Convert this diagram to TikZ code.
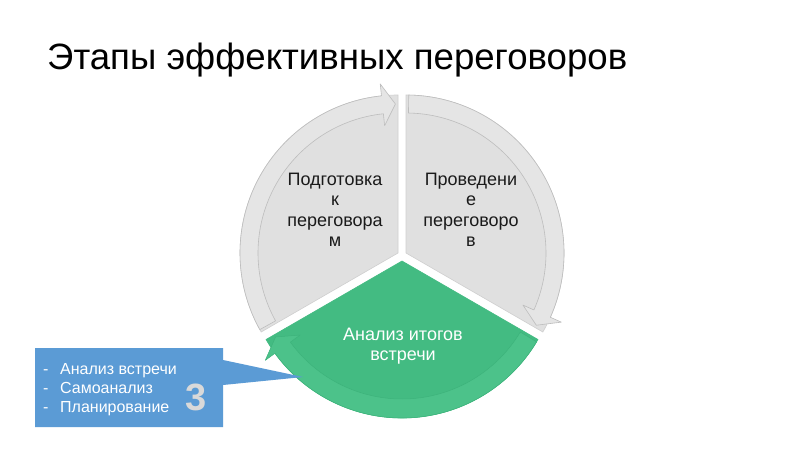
\documentclass[tikz,border=0pt]{standalone}
\usepackage{fontspec}
\setmainfont{Liberation Sans}
\definecolor{segGray}{HTML}{E0E0E0}
\definecolor{bandGray}{HTML}{E5E5E5}
\definecolor{lineGray}{HTML}{BDBDBD}
\definecolor{edgeGray}{HTML}{CFCFCF}
\definecolor{segGreen}{HTML}{43BB82}
\definecolor{bandGreen}{HTML}{4CC28A}
\definecolor{lineGreen}{HTML}{3DB37B}
\definecolor{calloutBlue}{HTML}{5B9BD5}
\definecolor{digitGray}{HTML}{D9D9D9}
\definecolor{textDark}{HTML}{1A1A1A}
% #1 tail angle, #2 end angle, #3 inner r, #4 outer r, #5 style
\newcommand{\arrowband}[5]{%
  \filldraw[#5] (#1:#4) arc[start angle=#1, end angle={#2+6}, radius=#4]
    -- ({#2+6}:{#4+12}) -- ({#2+1}:{(#3+#4)/2}) -- ({#2+6}:{#3-12})
    -- ({#2+6}:#3) arc[start angle={#2+6}, end angle=#1, radius=#3] -- cycle;}
\tikzset{
  graysector/.style={fill=segGray, draw=edgeGray, line width=0.6pt},
  grayband/.style={fill=bandGray, draw=lineGray, line width=0.6pt, line join=round},
  greensector/.style={fill=segGreen, draw=segGreen, line width=0.6pt},
  greenband/.style={fill=bandGreen, draw=lineGreen, line width=0.5pt, line join=round},
  segtext/.style={text=textDark, font=\fontsize{18}{20.5}\selectfont, align=center, inner sep=0pt},
  greentext/.style={text=white, font=\fontsize{18}{19.5}\selectfont, align=center, inner sep=0pt},
  listtext/.style={text=white, font=\fontsize{16}{19}\selectfont, inner sep=0pt, anchor=base west},
}
\begin{document}
\begin{tikzpicture}[x=1pt,y=1pt]
\useasboundingbox (0,0) rectangle (800,450);
\fill[white] (0,0) rectangle (800,450);

% title
\node[anchor=base west, inner sep=0pt, font=\fontsize{36.6}{40}\selectfont, text=black] (title) at (47,380) {Этапы эффективных переговоров};

% left segment
\begin{scope}[shift={(398,197)}]
  \filldraw[graysector] (0,0) -- (90:158) arc[start angle=90, end angle=210, radius=158] -- cycle;
  \arrowband{209}{90}{140}{158}{grayband}
\end{scope}

% right segment
\begin{scope}[shift={(406,197)}]
  \filldraw[graysector] (0,0) -- (-30:158) arc[start angle=-30, end angle=90, radius=158] -- cycle;
  \arrowband{89}{-30}{140}{158}{grayband}
\end{scope}

% green segment
\begin{scope}[shift={(402,189)}]
  \filldraw[greensector] (0,0) -- (210:157) arc[start angle=210, end angle=330, radius=157] -- cycle;
  \arrowband{329}{210}{138}{157}{greenband}
\end{scope}

% segment texts
\node[segtext] (prep) at (335,240) {Подготовка\\к\\переговора\\м};
\node[segtext] (cond) at (471,240) {Проведени\\е\\переговоро\\в};
\node[greentext] (anal) at (403,104) {Анализ итогов\\встречи};

% callout
\fill[calloutBlue] (35,23) -- (35,102) -- (223,102) -- (223,90) -- (303,73) -- (223,65) -- (223,23) -- cycle;
\node[listtext] (l1) at (43,76) {\makebox[17pt][l]{-}Анализ встречи};
\node[listtext] (l2) at (43,57) {\makebox[17pt][l]{-}Самоанализ};
\node[listtext] (l3) at (43,38) {\makebox[17pt][l]{-}Планирование};
\node[text=digitGray, font=\fontsize{38}{40}\bfseries, inner sep=0pt] (num) at (196,53) {3};
\end{tikzpicture}
\end{document}
